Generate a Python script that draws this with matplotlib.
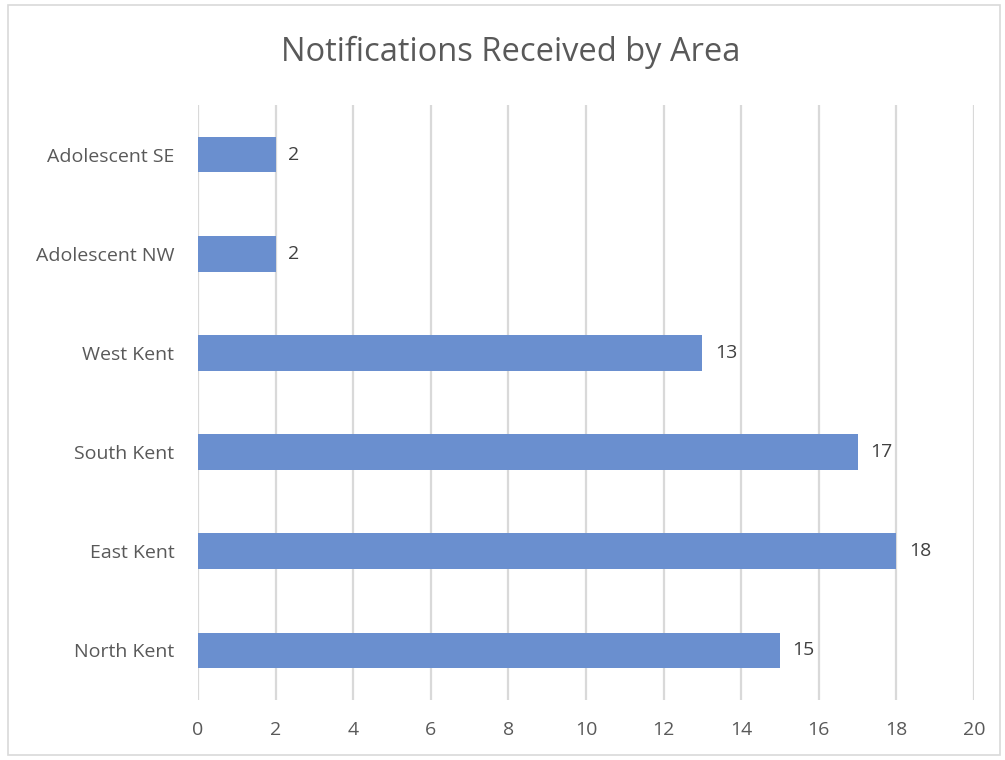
import matplotlib

matplotlib.use("Agg")
import matplotlib.pyplot as plt
from matplotlib.patches import Rectangle

areas = ["North Kent", "East Kent", "South Kent", "West Kent", "Adolescent NW", "Adolescent SE"]
notifications = [15, 18, 17, 13, 2, 2]
x_ticks = [0, 2, 4, 6, 8, 10, 12, 14, 16, 18, 20]

BAR = "#6A8FCF"
TEXT = "#595959"
GRID = "#D9D9D9"

plt.rcParams["font.family"] = ["Open Sans", "DejaVu Sans"]

fig = plt.figure(figsize=(10.05, 7.6), dpi=100)
ax = fig.add_axes([198 / 1005, 1 - 700 / 760, 776 / 1005, 595 / 760])

# light frame round the whole chart, as in the spreadsheet export
fig.patches.append(Rectangle((8 / 1005, 5 / 760), 992 / 1005, 750 / 760,
                             transform=fig.transFigure, fill=False,
                             edgecolor="#D9D9D9", linewidth=1.2))

pos = range(len(areas))
ax.barh(pos, notifications, height=0.36, color=BAR, zorder=2)
for y, v in zip(pos, notifications):
    ax.text(v + 0.32, y, str(v), va="center", ha="left", fontsize=14, color="#404040")

ax.set_xlim(0, 20)
ax.set_ylim(-0.5, len(areas) - 0.5)
ax.set_xticks(x_ticks)
ax.set_yticks(list(pos))
ax.set_yticklabels(areas)
ax.tick_params(axis="both", length=0, labelsize=14, labelcolor=TEXT)
ax.tick_params(axis="x", pad=15)
ax.tick_params(axis="y", pad=17)
ax.grid(axis="x", color=GRID, linewidth=1.6, zorder=0)
for s in ax.spines.values():
    s.set_visible(False)

fig.text(511 / 1005, 1 - 52 / 760, "Notifications Received by Area",
         ha="center", va="center", fontsize=23.5, color=TEXT)

fig.savefig("out.png", dpi=100)
